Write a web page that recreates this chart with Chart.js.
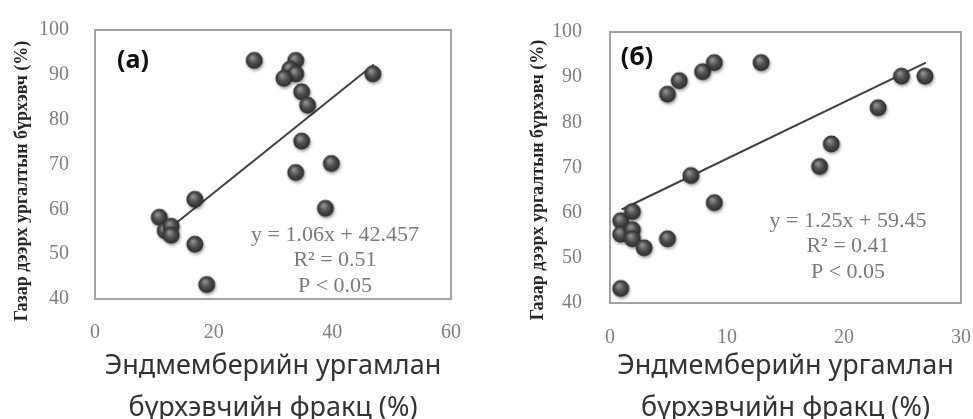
<!DOCTYPE html>
<html>
<head>
<meta charset="utf-8">
<script src="https://cdn.jsdelivr.net/npm/chart.js@4"></script>
<style>
  body { margin: 0; background: #fff; }
  .row { display: flex; width: 973px; height: 419px; }
  canvas { display: block; }
</style>
</head>
<body>
<div class="row">
  <canvas id="chartA" width="486" height="419"></canvas>
  <canvas id="chartB" width="487" height="419"></canvas>
</div>
<script>
// -- Data --
const aX = [27, 34, 33, 34, 32, 35, 36, 47, 35, 40, 34, 39, 17, 11, 12, 13, 13, 17, 19];
const aY = [93, 93, 91, 90, 89, 86, 83, 90, 75, 70, 68, 60, 62, 58, 55, 56, 54, 52, 43];
const aTrendX = [11, 47];
const aTrendY = [54.1, 92.3];

const bX = [1, 1, 1, 2, 2, 2, 3, 5, 5, 6, 8, 9, 13, 7, 9, 18, 19, 23, 25, 27];
const bY = [43, 58, 55, 60, 56, 54, 52, 54, 86, 89, 91, 93, 93, 68, 62, 70, 75, 83, 90, 90];
const bTrendX = [1, 27];
const bTrendY = [60.7, 93.2];

const yTicks = [40, 50, 60, 70, 80, 90, 100];
const aXTicks = [0, 20, 40, 60];
const bXTicks = [0, 10, 20, 30];

const yTitle = 'Газар дээрх ургалтын бүрхэвч (%)';
const xTitle = ['Эндмемберийн ургамлан', 'бүрхэвчийн фракц (%)'];
const aStats = ['y = 1.06x + 42.457', 'R² = 0.51', 'P < 0.05'];
const bStats = ['y = 1.25x + 59.45', 'R² = 0.41', 'P < 0.05'];

// shaded ball used as point marker
function makeBall() {
  const c = document.createElement('canvas');
  c.width = 26; c.height = 26;
  const g = c.getContext('2d');
  g.shadowColor = 'rgba(0,0,0,0.35)';
  g.shadowBlur = 3;
  g.shadowOffsetX = 1;
  g.shadowOffsetY = 2;
  const grad = g.createRadialGradient(10, 9, 1, 12, 12, 9);
  grad.addColorStop(0, '#8e8e8e');
  grad.addColorStop(0.45, '#505050');
  grad.addColorStop(1, '#262626');
  g.fillStyle = grad;
  g.beginPath();
  g.arc(12, 12, 8.5, 0, Math.PI * 2);
  g.fill();
  return c;
}
const ball = makeBall();

const toPoints = (xs, ys) => xs.map((x, i) => ({ x: x, y: ys[i] }));

// frame, panel label, y title and regression text
const decorations = {
  id: 'decorations',
  beforeDatasetsDraw(chart, args, opts) {
    const { ctx, chartArea: a } = chart;
    ctx.save();
    ctx.strokeStyle = '#a3a3a3';
    ctx.lineWidth = 2;
    ctx.strokeRect(a.left, a.top, a.right - a.left, a.bottom - a.top);
    ctx.restore();
  },
  afterDraw(chart, args, opts) {
    const ctx = chart.ctx;
    ctx.save();
    // rotated y title
    ctx.translate(opts.yTitleX, opts.yTitleY);
    ctx.rotate(-Math.PI / 2);
    ctx.font = 'bold 18px "Liberation Serif"';
    ctx.fillStyle = '#262626';
    ctx.textAlign = 'center';
    ctx.textBaseline = 'middle';
    ctx.fillText(yTitle, 0, 0);
    ctx.restore();

    ctx.save();
    ctx.font = 'bold 25px "Noto Sans"';
    ctx.fillStyle = '#111';
    ctx.textAlign = 'center';
    ctx.textBaseline = 'middle';
    ctx.fillText(opts.panel, opts.panelX, opts.panelY);

    ctx.font = '22px "Liberation Serif"';
    ctx.fillStyle = '#7a7a7a';
    opts.stats.forEach((s, i) => {
      ctx.fillText(s, opts.statsX, opts.statsY + i * 25.5);
    });
    ctx.restore();
  }
};

function makeChart(id, cfg) {
  return new Chart(document.getElementById(id), {
    type: 'scatter',
    data: {
      datasets: [
        {
          data: toPoints(cfg.xs, cfg.ys),
          pointStyle: ball,
          pointRadius: 8,
          order: 1
        },
        {
          type: 'line',
          data: toPoints(cfg.trendX, cfg.trendY),
          borderColor: '#404040',
          borderWidth: 2,
          pointRadius: 0,
          fill: false,
          order: 2
        }
      ]
    },
    options: {
      responsive: false,
      animation: false,
      layout: { padding: { top: 23, right: cfg.padRight, left: 0, bottom: 0 } },
      plugins: {
        legend: { display: false },
        tooltip: { enabled: false },
        decorations: cfg.deco
      },
      scales: {
        x: {
          type: 'linear',
          min: cfg.xTicks[0],
          max: cfg.xTicks[cfg.xTicks.length - 1],
          afterBuildTicks: s => { s.ticks = cfg.xTicks.map(v => ({ value: v })); },
          afterFit: s => {
            s.height = cfg.xHeight;
            s.paddingLeft = 0;
            s.paddingRight = 0;
          },
          grid: { display: false },
          border: { display: false },
          ticks: {
            color: '#7f7f7f',
            padding: cfg.xPad,
            font: { family: 'Liberation Serif', size: 20 }
          },
          title: {
            display: true,
            text: xTitle,
            color: '#333',
            font: { family: 'Noto Sans', size: 27, lineHeight: 42 / 27 },
            padding: { top: 0, bottom: -10 }
          }
        },
        y: {
          min: 40,
          max: 100,
          afterBuildTicks: s => { s.ticks = yTicks.map(v => ({ value: v })); },
          afterFit: s => { s.width = cfg.yWidth; },
          grid: { display: false },
          border: { display: false },
          ticks: {
            color: '#7f7f7f',
            padding: cfg.yPad,
            font: { family: 'Liberation Serif', size: 20 }
          }
        }
      }
    },
    plugins: [decorations]
  });
}

makeChart('chartA', {
  xs: aX, ys: aY, trendX: aTrendX, trendY: aTrendY, xTicks: aXTicks,
  padRight: 35, xHeight: 120, yWidth: 95, xPad: 14, yPad: 18,
  deco: {
    yTitleX: 22, yTitleY: 181, panel: '(a)', panelX: 133, panelY: 61,
    stats: aStats, statsX: 335, statsY: 235
  }
});

makeChart('chartB', {
  xs: bX, ys: bY, trendX: bTrendX, trendY: bTrendY, xTicks: bXTicks,
  padRight: 12, xHeight: 116, yWidth: 124, xPad: 15, yPad: 20,
  deco: {
    yTitleX: 52, yTitleY: 180, panel: '(б)', panelX: 151, panelY: 58,
    stats: bStats, statsX: 362, statsY: 221
  }
});
</script>
</body>
</html>
